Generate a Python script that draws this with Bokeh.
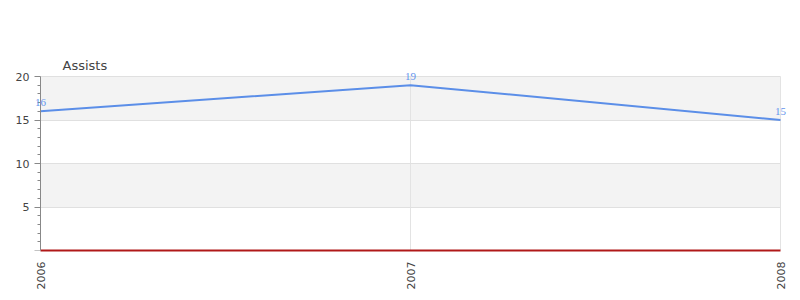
from bokeh.plotting import figure
from bokeh.models import (ColumnDataSource, FixedTicker, Range1d, BoxAnnotation,
                          LabelSet, Grid)
from bokeh.embed import file_html
from bokeh.resources import INLINE

years = [2006, 2007, 2008]
assists = [16, 19, 15]
labels = ["16", "19", "15"]
y_ticks = [0, 5, 10, 15, 20]
title = "Assists"

FONT = "DejaVu Sans"

# visual plot area: x 40..780, y 76..250 ; frame is a bit larger so labels aren't clipped
X0, X1, Y0, Y1 = years[0], years[-1], 0, 20
px_x = 740 / (X1 - X0)
px_y = 174 / (Y1 - Y0)
PAD_L, PAD_R, PAD_T = 32, 12, 4

p = figure(width=800, height=300, output_backend="svg", toolbar_location=None,
           x_range=Range1d(X0 - PAD_L / px_x, X1 + PAD_R / px_x),
           y_range=Range1d(Y0, Y1 + PAD_T / px_y),
           min_border_left=40 - PAD_L, min_border_right=20 - PAD_R,
           min_border_top=76 - PAD_T, min_border_bottom=50)
p.outline_line_color = None
p.background_fill_color = "white"
p.xgrid.visible = False
p.ygrid.visible = False

p.title.text = title
p.title.text_font = FONT
p.title.text_font_size = "13px"
p.title.text_color = "#444444"
p.title.text_font_style = "normal"
p.title.offset = 62 - (40 - PAD_L)
p.title.standoff = 0

# alternating bands
for lo, hi in [(5, 10), (15, 20)]:
    p.add_layout(BoxAnnotation(left=X0, right=X1, bottom=lo, top=hi,
                               fill_color="#f3f3f3", fill_alpha=1,
                               line_color=None, level="underlay"))

# grid lines limited to the visual area
try:
    xg = Grid(dimension=0, ticker=FixedTicker(ticks=years),
              grid_line_color="#e3e3e3", cross_bounds=(Y0, Y1))
    yg = Grid(dimension=1, ticker=FixedTicker(ticks=y_ticks[1:]),
              grid_line_color="#e0e0e0", cross_bounds=(X0, X1))
    p.add_layout(xg)
    p.add_layout(yg)
except Exception:
    p.segment(x0=years, x1=years, y0=[Y0] * len(years), y1=[Y1] * len(years),
              line_color="#e3e3e3", level="underlay")
    n = len(y_ticks) - 1
    p.segment(x0=[X0] * n, x1=[X1] * n, y0=y_ticks[1:], y1=y_ticks[1:],
              line_color="#e0e0e0", level="underlay")

src = ColumnDataSource(dict(x=years, y=assists, t=labels))
p.line("x", "y", source=src, line_color="#5b8ee8", line_width=2)
p.add_layout(LabelSet(x="x", y="y", text="t", source=src, text_font=FONT,
                      text_font_size="11px", text_color="#6495ED",
                      text_align="center", text_baseline="bottom", y_offset=5))

# axes (x-axis line doubles as the red zero line)
p.xaxis.ticker = FixedTicker(ticks=years)
p.xaxis.bounds = (X0, X1)
p.xaxis.major_label_orientation = 1.5708
p.xaxis.major_label_text_font = FONT
p.xaxis.major_label_text_font_size = "11px"
p.xaxis.major_label_text_color = "#444444"
p.xaxis.axis_line_color = "#b01818"
p.xaxis.axis_line_width = 2
p.xaxis.major_tick_line_color = None
p.xaxis.minor_tick_line_color = None

p.yaxis.fixed_location = X0
p.yaxis.bounds = (Y0, Y1)
p.yaxis.ticker = FixedTicker(ticks=y_ticks, minor_ticks=list(range(1, 20)))
p.yaxis.major_label_overrides = {0: ""}
p.yaxis.major_label_text_font = FONT
p.yaxis.major_label_text_font_size = "11px"
p.yaxis.major_label_text_color = "#444444"
p.yaxis.axis_line_color = "#888888"
p.yaxis.major_tick_line_color = "#888888"
p.yaxis.minor_tick_line_color = "#888888"
p.yaxis.major_tick_out = 6
p.yaxis.major_tick_in = 0
p.yaxis.minor_tick_out = 3
p.yaxis.minor_tick_in = 0

open("out.html", "w").write(file_html(p, INLINE))
